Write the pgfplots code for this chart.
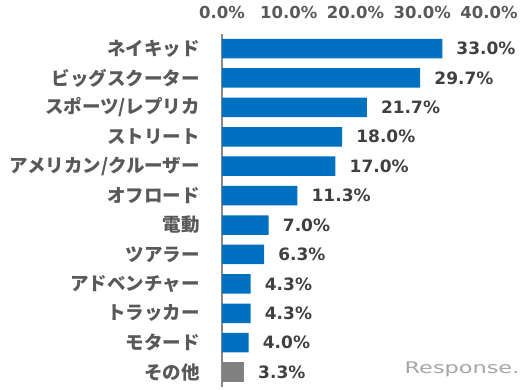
\documentclass[border=0pt]{standalone}
\usepackage{fontspec}
\usepackage{pgfplots}
\pgfplotsset{compat=1.18}
\setmainfont{DejaVu Sans}
\newfontfamily\jp{Noto Sans CJK JP}
\definecolor{barblue}{HTML}{0070C0}
\definecolor{bargray}{HTML}{808080}
\definecolor{txtgray}{HTML}{595959}
\definecolor{valgray}{HTML}{404040}
\definecolor{axgray}{HTML}{898989}
\begin{document}
\begin{tikzpicture}
\path[use as bounding box] (-222pt,-2.3pt) rectangle (310pt,386.8pt);
\begin{axis}[
  at={(0pt,0pt)}, anchor=south west,
  scale only axis, width=267pt, height=353pt,
  xbar, bar width=19.5pt, bar shift=0pt,
  xmin=0, xmax=40, ymin=-0.5, ymax=11.5, y dir=reverse,
  axis y line=left, axis x line=top,
  axis line style={-},
  x axis line style={draw=none},
  y axis line style={draw=axgray, line width=1.5pt},
  major tick length=0pt,
  xtick={0,10,20,30,40},
  /pgf/number format/assume math mode=true,
  xticklabel={\pgfmathprintnumber[fixed,fixed zerofill,precision=1]{\tick}\%},
  xticklabel style={anchor=south, inner sep=0pt, yshift=15pt, text=txtgray,
    font=\bfseries\fontsize{16.5}{18}\selectfont},
  ytick={0,...,11},
  yticklabels={ネイキッド,ビッグスクーター,スポーツ/レプリカ,ストリート,アメリカン/クルーザー,オフロード,電動,ツアラー,アドベンチャー,トラッカー,モタード,その他},
  yticklabel style={anchor=east, inner sep=0pt, xshift=-22pt, text=txtgray,
    font=\jp\bfseries\fontsize{18.5}{20}\selectfont},
  point meta=x,
  nodes near coords={\pgfmathprintnumber[fixed,fixed zerofill,precision=1]{\pgfplotspointmeta}\%},
  every node near coord/.append style={anchor=west, inner sep=0pt, xshift=14pt,
    text=valgray, font=\bfseries\fontsize{17}{19}\selectfont},
]
\addplot[draw=none, fill=barblue] coordinates {
  (33.0,0) (29.7,1) (21.7,2) (18.0,3) (17.0,4) (11.3,5)
  (7.0,6) (6.3,7) (4.3,8) (4.3,9) (4.0,10)
};
\addplot[draw=none, fill=bargray] coordinates {(3.3,11)};
\end{axis}
\node[text=black!35, xscale=1.4, font=\fontsize{16}{18}\selectfont] at (240pt,17.8pt) {Response.};
\end{tikzpicture}
\end{document}
